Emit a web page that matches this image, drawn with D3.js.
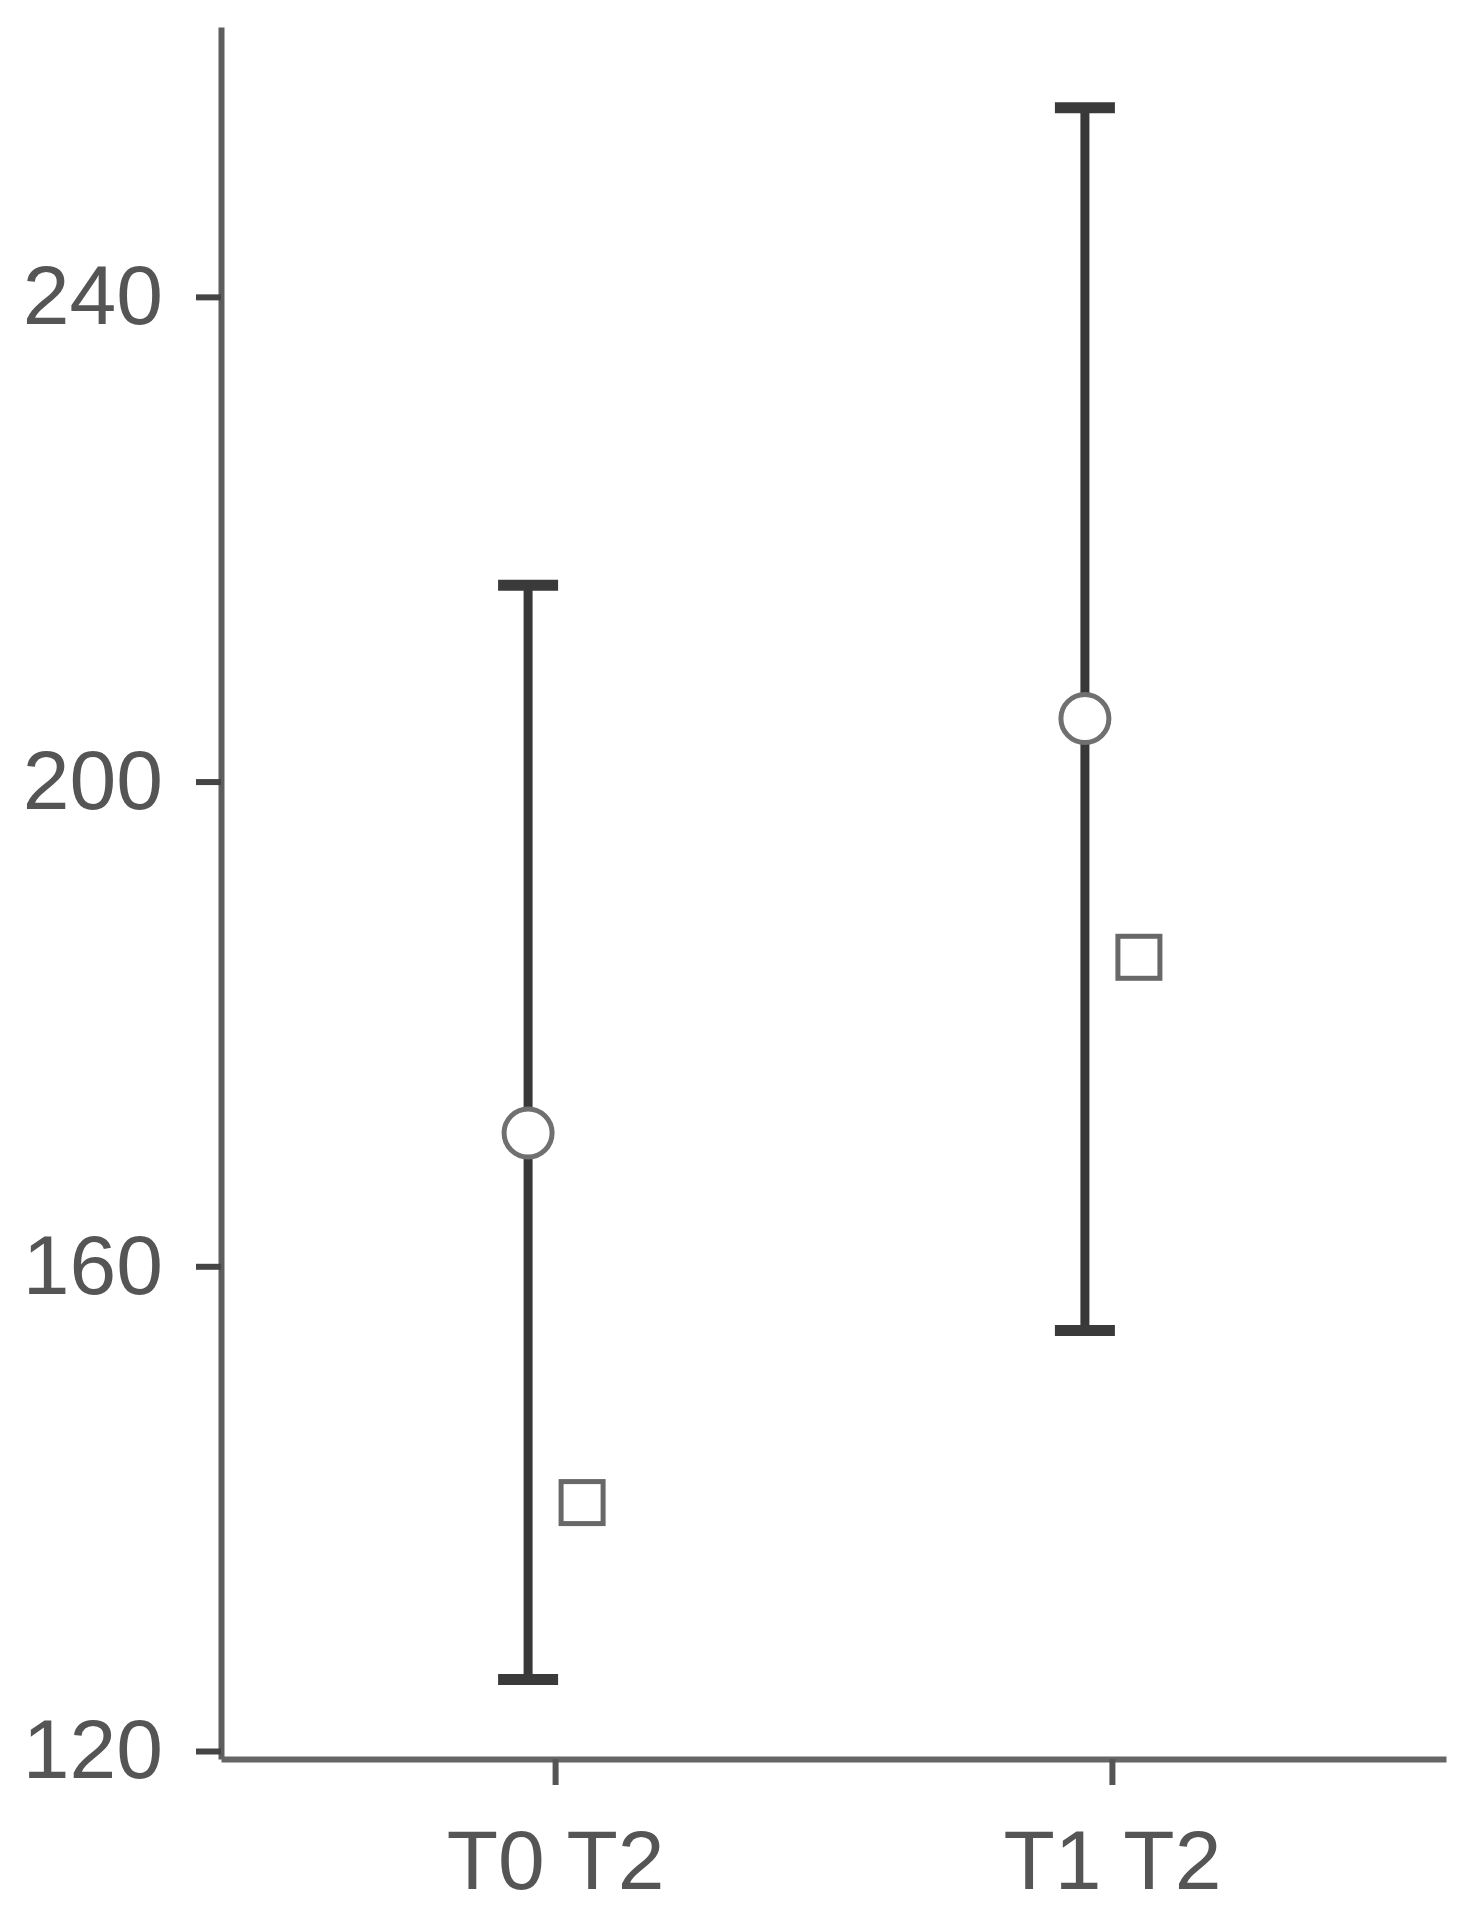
<!DOCTYPE html>
<html>
<head>
<meta charset="utf-8">
<script src="https://cdn.jsdelivr.net/npm/d3@7"></script>
<style>
    body { margin: 0; background: #fff; }
    svg { display: block; }
</style>
</head>
<body>
<div id="chart"></div>
<script>
// values
const groups = ["T0 T2", "T1 T2"];
const meanValues = [171.0, 205.2];
const ciLow = [125.9, 154.7];
const ciHigh = [216.2, 255.6];
const squareValues = [140.5, 185.5];
const yTicks = [120, 160, 200, 240];

const width = 1474, height = 1916;
const plotLeft = 221, plotRight = 1446, plotTop = 27, plotBottom = 1759;

let svg = d3.select("#chart").append("svg")
    .attr("width", width)
    .attr("height", height);

let x = d3.scalePoint()
    .domain(groups)
    .range([plotLeft, plotRight])
    .padding(0.6);

let y = d3.scaleLinear()
    .domain([119.34, 262.27])
    .range([plotBottom, plotTop]);

const font = "'Liberation Sans', Arial, sans-serif";

// y axis
let yAxis = svg.append("g")
    .attr("transform", `translate(${plotLeft},0)`)
    .call(d3.axisLeft(y).tickValues(yTicks).tickSize(25).tickSizeOuter(0).tickPadding(33));
yAxis.select(".domain").attr("stroke", "#5e5e5e").attr("stroke-width", 6);
yAxis.selectAll(".tick line").attr("stroke", "#444").attr("stroke-width", 6);
yAxis.selectAll(".tick text")
    .attr("fill", "#555")
    .style("font-family", font)
    .style("font-size", "84px");

// x axis
let xAxis = svg.append("g")
    .attr("transform", `translate(0,${plotBottom})`)
    .call(d3.axisBottom(x).tickSize(26).tickSizeOuter(0).tickPadding(44));
xAxis.select(".domain").attr("stroke", "#666").attr("stroke-width", 6);
xAxis.selectAll(".tick line").attr("stroke", "#555").attr("stroke-width", 6);
xAxis.selectAll(".tick text")
    .attr("fill", "#555")
    .attr("dy", "0.71em")
    .style("font-family", font)
    .style("font-size", "84px");

// error bars, shifted left of the tick
const dodge = 27, capHalf = 30;
let bars = svg.append("g").attr("class", "bars")
    .selectAll("g")
    .data(groups)
    .enter()
    .append("g");

bars.append("line")
    .attr("x1", d => x(d) - dodge)
    .attr("x2", d => x(d) - dodge)
    .attr("y1", (d, i) => y(ciLow[i]))
    .attr("y2", (d, i) => y(ciHigh[i]))
    .attr("stroke", "#383838")
    .attr("stroke-width", 9);

bars.append("line")
    .attr("x1", d => x(d) - dodge - capHalf)
    .attr("x2", d => x(d) - dodge + capHalf)
    .attr("y1", (d, i) => y(ciHigh[i]))
    .attr("y2", (d, i) => y(ciHigh[i]))
    .attr("stroke", "#3a3a3a")
    .attr("stroke-width", 11);

bars.append("line")
    .attr("x1", d => x(d) - dodge - capHalf)
    .attr("x2", d => x(d) - dodge + capHalf)
    .attr("y1", (d, i) => y(ciLow[i]))
    .attr("y2", (d, i) => y(ciLow[i]))
    .attr("stroke", "#3a3a3a")
    .attr("stroke-width", 11);

bars.append("circle")
    .attr("cx", d => x(d) - dodge)
    .attr("cy", (d, i) => y(meanValues[i]))
    .attr("r", 24)
    .attr("fill", "#fff")
    .attr("stroke", "#707070")
    .attr("stroke-width", 5);

// squares, shifted right of the tick
const sq = 42;
svg.append("g").attr("class", "squares")
    .selectAll("rect")
    .data(groups)
    .enter()
    .append("rect")
    .attr("x", d => x(d) + dodge - sq / 2)
    .attr("y", (d, i) => y(squareValues[i]) - sq / 2)
    .attr("width", sq)
    .attr("height", sq)
    .attr("fill", "#fff")
    .attr("stroke", "#686868")
    .attr("stroke-width", 5);
</script>
</body>
</html>
